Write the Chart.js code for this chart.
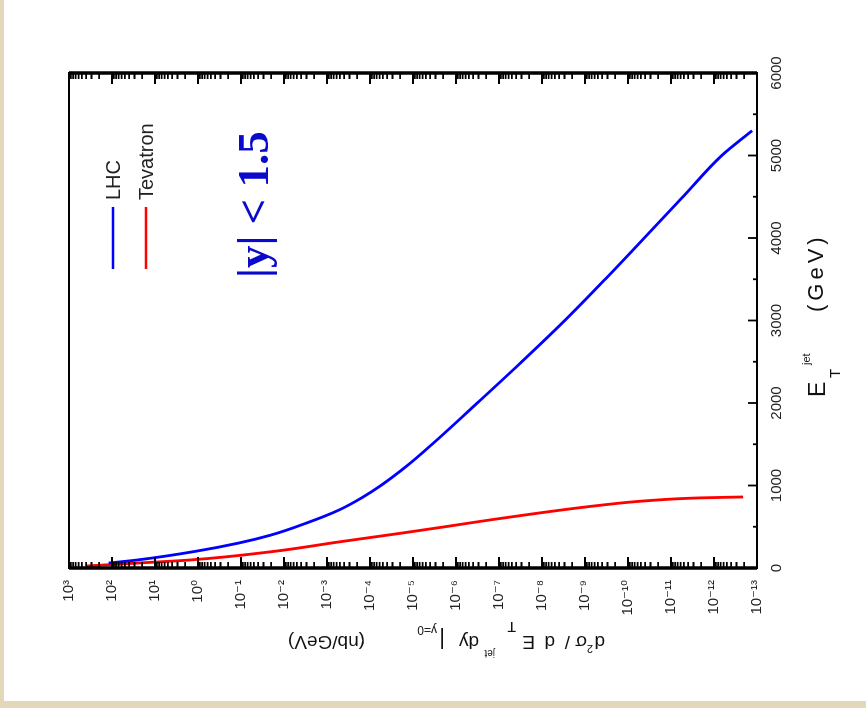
<!DOCTYPE html>
<html>
<head>
<meta charset="utf-8">
<script src="https://cdn.jsdelivr.net/npm/chart.js@4"></script>
<style>
  html, body { margin: 0; padding: 0; }
  body { width: 866px; height: 708px; background: #e4d8bb; position: relative; overflow: hidden; }
  #paper { position: absolute; left: 4px; top: 0; width: 862px; height: 701px; background: #fff; }
  /* the figure is drawn upright and then turned a quarter turn to the left */
  #rot { position: absolute; left: 0; top: 708px; width: 708px; height: 866px;
         transform-origin: 0 0; transform: rotate(-90deg); }
</style>
</head>
<body>
<div id="paper"></div>
<div id="rot"><canvas id="c" width="708" height="866"></canvas></div>
<script>
// jet E_T (GeV) and d2sigma/dE_T dy (nb/GeV)
const etLHC = [60, 97, 200, 303, 400, 545, 700, 860, 1000, 1250, 1500, 2000, 2500, 3000, 3500, 4000, 4500, 5000, 5300];
const sigmaLHC = [1.2e2, 2.6e1, 1.2e0, 1.12e-1, 2.0e-2, 3.0e-3, 5.4e-4, 1.45e-4, 5.6e-5, 1.3e-5, 3.6e-6,
                  3.2e-7, 2.95e-8, 2.95e-9, 3.4e-10, 4.2e-11, 5.25e-12, 6.6e-13, 1.3e-13];

const etTev = [24, 55, 97, 200, 318, 420, 492, 600, 760, 818, 850, 861];
const sigmaTev = [4.0e2, 3.8e1, 1.55e0, 1.8e-2, 5.0e-4, 2.0e-5, 2.3e-6, 9.5e-8, 4.5e-10, 3.1e-11, 2.1e-12, 2.1e-13];

const etTicks = [0, 1000, 2000, 3000, 4000, 5000, 6000];
const logTicks = [1e3, 1e2, 1e1, 1e0, 1e-1, 1e-2, 1e-3, 1e-4, 1e-5, 1e-6, 1e-7, 1e-8, 1e-9, 1e-10, 1e-11, 1e-12, 1e-13];
const logTickLabels = ['10³', '10²', '10¹', '10⁰', '10⁻¹', '10⁻²', '10⁻³', '10⁻⁴', '10⁻⁵', '10⁻⁶',
                       '10⁻⁷', '10⁻⁸', '10⁻⁹', '10⁻¹⁰', '10⁻¹¹', '10⁻¹²', '10⁻¹³'];

const seriesNames = ['LHC', 'Tevatron'];
const seriesColors = ['#0000ff', '#ff0000'];

const SANS = '"Liberation Sans", Arial, "DejaVu Sans", sans-serif';

function toPoints(xs, ys) {
    return xs.map((x, i) => ({ x: x, y: ys[i] }));
}

// draws pieces of text one after the other: [text, size, startOffset, baselineShift]
function drawPieces(ctx, pieces) {
    pieces.forEach(p => {
        ctx.font = p[1] + 'px ' + SANS;
        ctx.fillText(p[0], p[2], p[3]);
    });
}

const framePlugin = {
    id: 'frame',
    afterDatasetsDraw(chart) {
        const ctx = chart.ctx;
        const a = chart.chartArea;
        const x = chart.scales.x;
        const y = chart.scales.y;
        ctx.save();

        // box: the two long sides come out heavier in the picture
        ctx.strokeStyle = '#000';
        ctx.lineWidth = 2;
        ctx.strokeRect(a.left, a.top, a.right - a.left, a.bottom - a.top);
        ctx.lineWidth = 3.5;
        ctx.beginPath();
        ctx.moveTo(a.left, a.top); ctx.lineTo(a.left, a.bottom);
        ctx.moveTo(a.right, a.top); ctx.lineTo(a.right, a.bottom);
        ctx.stroke();

        // inward ticks
        ctx.lineWidth = 1.8;
        ctx.beginPath();
        for (let e = 0; e <= 6000; e += 500) {
            const px = x.getPixelForValue(e);
            const len = e % 1000 === 0 ? 9 : 4;
            ctx.moveTo(px, a.bottom);
            ctx.lineTo(px, a.bottom - len);
        }
        for (let n = -13; n <= 3; n++) {
            for (let m = 1; m <= 9; m++) {
                const v = m * Math.pow(10, n);
                if (v > 1000.0001) break;
                const py = y.getPixelForValue(v);
                const len = m === 1 ? 11 : 6;
                ctx.moveTo(a.left, py); ctx.lineTo(a.left + len, py);
                ctx.moveTo(a.right, py); ctx.lineTo(a.right - len, py);
            }
        }
        ctx.stroke();

        // legend
        ctx.lineWidth = 2.5;
        ctx.textBaseline = 'middle';
        ctx.font = '20px ' + SANS;
        seriesNames.forEach((name, i) => {
            const ly = a.top + 44 + i * 33;
            ctx.strokeStyle = seriesColors[i];
            ctx.beginPath();
            ctx.moveTo(a.left + 299, ly);
            ctx.lineTo(a.left + 361, ly);
            ctx.stroke();
            ctx.fillStyle = '#222';
            ctx.fillText(name, a.left + 368, ly + 1);
        });

        // |y| < 1.5
        ctx.textBaseline = 'alphabetic';
        ctx.fillStyle = '#0a0acc';
        ctx.font = 'bold 45px "Liberation Serif", "Times New Roman", serif';
        ctx.fillText('|y| < 1.5', a.left + 290, a.top + 199);

        // x title  E_T^jet (GeV)
        ctx.fillStyle = '#111';
        ctx.save();
        ctx.translate(0, a.bottom + 68);
        drawPieces(ctx, [
            ['E', 23, 311, 0],
            ['T', 15, 330, 15],
            ['jet', 11, 343, -15]
        ]);
        ctx.letterSpacing = '4px';
        drawPieces(ctx, [['(GeV)', 22, 396, -2]]);
        ctx.restore();

        // y title, running upwards
        ctx.save();
        ctx.translate(a.left - 68, a.top + 536);
        ctx.rotate(-Math.PI / 2);
        drawPieces(ctx, [
            ['d', 19, 0, 0],
            ['2', 11, 12, -9],
            ['σ', 19, 18, 0],
            ['/', 19, 35, 0],
            ['d', 19, 50, 0],
            ['E', 19, 70, 0],
            ['T', 14, 89, 14],
            ['jet', 10, 110, -14],
            ['dy', 19, 126, 0],
            ['|', 22, 160, 3],
            ['y=0', 12, 168, 10],
            ['(nb/GeV)', 19, 240, 0]
        ]);
        ctx.restore();

        ctx.restore();
    }
};

new Chart(document.getElementById('c'), {
    type: 'line',
    data: {
        datasets: [{
            label: seriesNames[0],
            data: toPoints(etLHC, sigmaLHC),
            borderColor: seriesColors[0],
            borderWidth: 2.8,
            pointRadius: 0,
            cubicInterpolationMode: 'monotone',
            fill: false
        }, {
            label: seriesNames[1],
            data: toPoints(etTev, sigmaTev),
            borderColor: seriesColors[1],
            borderWidth: 2.8,
            pointRadius: 0,
            cubicInterpolationMode: 'monotone',
            fill: false
        }]
    },
    options: {
        responsive: false,
        animation: false,
        devicePixelRatio: 1,
        layout: { padding: { left: 0, top: 69, right: 73, bottom: 0 } },
        plugins: {
            legend: { display: false },
            tooltip: { enabled: false }
        },
        scales: {
            x: {
                type: 'linear',
                min: 0,
                max: 6000,
                afterBuildTicks: s => { s.ticks = etTicks.map(v => ({ value: v })); },
                afterFit: s => { s.height = 109; },
                grid: { display: false, drawTicks: false },
                border: { display: false },
                ticks: {
                    autoSkip: false,
                    maxRotation: 0,
                    padding: 11,
                    color: '#222',
                    font: { family: SANS, size: 15 },
                    callback: v => String(v)
                }
            },
            y: {
                type: 'logarithmic',
                min: 1e-13,
                max: 1e3,
                afterBuildTicks: s => { s.ticks = logTicks.map(v => ({ value: v })); },
                afterFit: s => { s.width = 140; },
                grid: { display: false, drawTicks: false },
                border: { display: false },
                ticks: {
                    autoSkip: false,
                    padding: 12,
                    color: '#222',
                    font: { family: SANS, size: 15 },
                    callback: v => logTickLabels[logTicks.indexOf(v)]
                }
            }
        }
    },
    plugins: [framePlugin]
});
</script>
</body>
</html>
